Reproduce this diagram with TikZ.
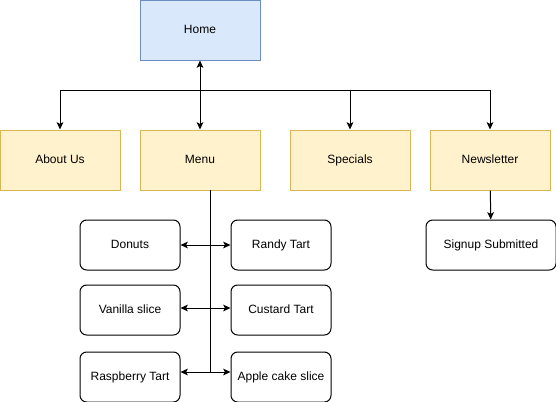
\documentclass[tikz,border=0pt]{standalone}
\usepackage{fontspec}
\setmainfont{Liberation Sans}
\usetikzlibrary{positioning,arrows.meta}
\definecolor{homefill}{HTML}{DAE8FC}
\definecolor{homeline}{HTML}{6C8EBF}
\definecolor{pagefill}{HTML}{FFF2CC}
\definecolor{pageline}{HTML}{D6B656}

\begin{document}
\begin{tikzpicture}[x=0.75pt,y=-0.75pt,line width=0.75pt,
    >={Stealth[length=5.5pt,width=5pt,inset=1.3pt]},
    font=\fontsize{9pt}{11pt}\selectfont,
    every node/.style={inner sep=1pt,text height=6.8pt,text depth=1.8pt},
    homepage/.style={draw=homeline,fill=homefill,minimum width=90pt,minimum height=45pt},
    subpage/.style={draw=pageline,fill=pagefill,minimum width=90pt,minimum height=45pt},
    menuitem/.style={draw,fill=white,rounded corners=5pt,minimum width=75pt,minimum height=37.5pt}]
    \useasboundingbox (0,0) rectangle (556,401);

    % Top level
    \node[homepage] (home) at (200,30) {Home};
    \node[subpage] (about) at (60,160) {About Us};
    \node[subpage] (menu) at (200,160) {Menu};
    \node[subpage] (specials) at (350,160) {Specials};
    \node[subpage] (news) at (490,160) {Newsletter};

    % Menu items
    \node[menuitem] (donuts) at (130,245) {Donuts};
    \node[menuitem] (randy) [right=37.5pt of donuts] {Randy Tart};
    \node[menuitem] (vanilla) [below=10.5pt of donuts] {Vanilla slice};
    \node[menuitem] (custard) [right=37.5pt of vanilla] {Custard Tart};
    \node[menuitem] (raspberry) [below=12pt of vanilla] {Raspberry Tart};
    \node[menuitem] (apple) [right=37.5pt of raspberry] {Apple cake slice};

    % Newsletter result
    \node[menuitem,minimum width=97.5pt] (signup) at (491,245) {Signup Submitted};

    \coordinate (split) at (200,90);
    \coordinate (trunk) at (210,190);
    \coordinate (trunkend) at (210,372);

    \draw[<->] (home) -- (menu);
    \draw[->] (split) -| (about);
    \draw[->] (split) -| (specials);
    \draw[->] (split) -| (news);
    \draw[->] (news) -- (signup);

    \draw (trunk) -- (trunkend);
    \draw[->] (trunk) |- (donuts.east);
    \draw[->] (trunk) |- (randy.west);
    \draw[->] (trunk) |- ([yshift=1.5pt]vanilla.east);
    \draw[->] (trunk) |- ([yshift=1.5pt]custard.west);
    \draw[->] (trunkend) -- (trunkend -| raspberry.east);
    \draw[->] (trunkend) -- (trunkend -| apple.west);
\end{tikzpicture}
\end{document}
